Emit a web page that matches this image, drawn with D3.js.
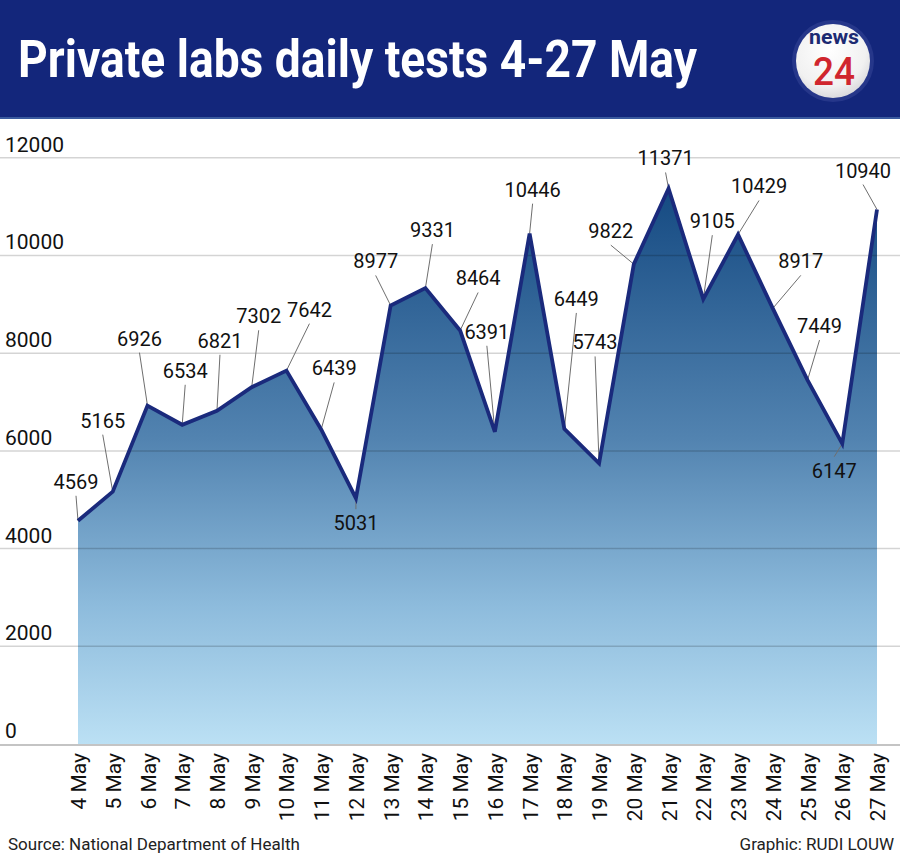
<!DOCTYPE html>
<html><head><meta charset="utf-8">
<script src="https://cdn.jsdelivr.net/npm/d3@7"></script>
<style>body{margin:0;background:#fff}svg{display:block}</style>
</head><body>
<svg id="c" width="900" height="861"></svg>
<script>
const days = ["4 May","5 May","6 May","7 May","8 May","9 May","10 May","11 May","12 May","13 May","14 May","15 May","16 May","17 May","18 May","19 May","20 May","21 May","22 May","23 May","24 May","25 May","26 May","27 May"];
const tests = [4569,5165,6926,6534,6821,7302,7642,6439,5031,8977,9331,8464,6391,10446,6449,5743,9822,11371,9105,10429,8917,7449,6147,10940];
const yTicks = [0,2000,4000,6000,8000,10000,12000];
// label placement offsets relative to each point (layout only)
const labelDx = [-2,-10,-8,3,3,7,23,13,0,-15,7,18,-8,3,12,-4,-23,-3,9,21,28,12,-8,-14];
const labelDy = [-32,-64,-60,-47,-63,-64,-54,-54,32,-37,-51,-45,-93,-37,-123,-114,-26,-23,-71,-41,-40,-47,34,-32];

const svg = d3.select("#c");
const font = "Roboto, 'Noto Sans', sans-serif";

// header
svg.append("rect").attr("x",0).attr("y",0).attr("width",900).attr("height",119).attr("fill","#13267b");
svg.append("rect").attr("x",0).attr("y",117).attr("width",900).attr("height",2).attr("fill","#3a5a9e");
svg.append("text").attr("x",18).attr("y",77).attr("fill","#fff")
  .attr("font-family",font).attr("font-weight",700).attr("font-size",51)
  .attr("textLength",679).attr("lengthAdjust","spacingAndGlyphs")
  .text("Private labs daily tests 4-27 May");

// logo
const defs = svg.append("defs");
const lg = defs.append("radialGradient").attr("id","logoG").attr("cx","45%").attr("cy","35%").attr("r","70%");
lg.append("stop").attr("offset","0%").attr("stop-color","#ffffff");
lg.append("stop").attr("offset","70%").attr("stop-color","#f1f1f1");
lg.append("stop").attr("offset","100%").attr("stop-color","#d4d4d8");
svg.append("circle").attr("cx",833).attr("cy",61).attr("r",41).attr("fill","#26378a");
svg.append("circle").attr("cx",833).attr("cy",61).attr("r",37).attr("fill","url(#logoG)");
svg.append("text").attr("x",834).attr("y",44).attr("text-anchor","middle").attr("fill","#1c2a72")
  .attr("font-family",font).attr("font-weight",700).attr("font-size",20)
  .attr("textLength",50).attr("lengthAdjust","spacingAndGlyphs").text("news");
svg.append("text").attr("x",834).attr("y",85).attr("text-anchor","middle").attr("fill","#d0262e")
  .attr("font-family",font).attr("font-weight",500).attr("font-size",38)
  .attr("textLength",42).attr("lengthAdjust","spacingAndGlyphs").text("24");

// scales
const x = d3.scalePoint().domain(days).range([78,877]);
const y = d3.scaleLinear().domain([0,12000]).range([744,157.75]);
const data = days.map((d,i)=>({day:d,v:tests[i],i}));

// area gradient
const ag = defs.append("linearGradient").attr("id","areaG").attr("gradientUnits","userSpaceOnUse")
  .attr("x1",0).attr("x2",0).attr("y1",y(11371)).attr("y2",y(0));
ag.append("stop").attr("offset","0%").attr("stop-color","#154a82");
ag.append("stop").attr("offset","45%").attr("stop-color","#5283b0");
ag.append("stop").attr("offset","75%").attr("stop-color","#8dbbdc");
ag.append("stop").attr("offset","100%").attr("stop-color","#bbe0f4");

svg.append("path").datum(data)
  .attr("d", d3.area().x(d=>x(d.day)).y0(y(0)).y1(d=>y(d.v)))
  .attr("fill","url(#areaG)");

// gridlines
svg.append("g").selectAll("line").data(yTicks.filter(t=>t>0)).join("line")
  .attr("x1",0).attr("x2",900).attr("y1",d=>y(d)).attr("y2",d=>y(d))
  .attr("stroke","rgba(0,0,0,0.17)").attr("stroke-width",1.5);
svg.append("line").attr("x1",0).attr("x2",900).attr("y1",y(0)+1).attr("y2",y(0)+1)
  .attr("stroke","#c4c4c4").attr("stroke-width",2);

// y tick labels
svg.append("g").selectAll("text").data(yTicks).join("text")
  .attr("x",5).attr("y",d=>y(d)-6)
  .attr("font-family",font).attr("font-size",21).attr("fill","#111")
  .text(d=>d);

// x axis labels
const xAxis = d3.axisBottom(x).tickSize(0).tickPadding(0);
const gx = svg.append("g").attr("transform",`translate(0,${y(0)})`).call(xAxis);
gx.select(".domain").remove();
gx.selectAll(".tick text")
  .attr("font-family",font).attr("font-size",21).attr("fill","#111")
  .attr("transform","rotate(-90)").attr("text-anchor","end")
  .attr("x",-9).attr("y",0).attr("dy","0.36em");

// leaders
svg.append("g").selectAll("line").data(data).join("line")
  .attr("x1",d=>x(d.day)).attr("y1",d=>y(d.v))
  .attr("x2",d=>x(d.day)+labelDx[d.i])
  .attr("y2",d=>y(d.v)+labelDy[d.i] + (labelDy[d.i]<0 ? 7 : -21))
  .attr("stroke","#6e6e6e").attr("stroke-width",1);

// line
svg.append("path").datum(data)
  .attr("d", d3.line().x(d=>x(d.day)).y(d=>y(d.v)))
  .attr("fill","none").attr("stroke","#1a2a7c").attr("stroke-width",3.8).attr("stroke-linejoin","miter");

// value labels
svg.append("g").selectAll("text").data(data).join("text")
  .attr("x",d=>x(d.day)+labelDx[d.i]).attr("y",d=>y(d.v)+labelDy[d.i])
  .attr("text-anchor","middle").attr("font-family",font).attr("font-size",20).attr("fill","#111")
  .text(d=>d.v);

// footer
svg.append("text").attr("x",8).attr("y",850).attr("font-family",font).attr("font-size",17).attr("fill","#222")
  .text("Source: National Department of Health");
svg.append("text").attr("x",894).attr("y",850).attr("text-anchor","end").attr("font-family",font).attr("font-size",17).attr("fill","#222")
  .text("Graphic: RUDI LOUW");
</script>
</body></html>
